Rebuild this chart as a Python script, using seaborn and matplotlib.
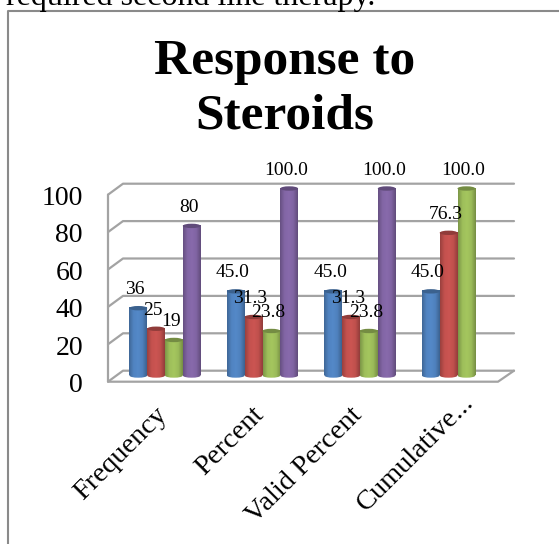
import numpy as np
import pandas as pd
import seaborn as sns
import matplotlib.pyplot as plt
from matplotlib.colors import LinearSegmentedColormap, to_rgb
from matplotlib.patches import Ellipse
from matplotlib.transforms import ScaledTranslation

# Chart data
categories = ["Frequency", "Percent", "Valid Percent", "Cumulative..."]
series_names = ["Series 1", "Series 2", "Series 3", "Series 4"]
series_1 = [36, 45.0, 45.0, 45.0]
series_2 = [25, 31.3, 31.3, 76.3]
series_3 = [19, 23.8, 23.8, 100.0]
series_4 = [80, 100.0, 100.0, np.nan]
y_ticks = [0, 20, 40, 60, 80, 100]
colors = ["#4F81BD", "#C0504D", "#9BBB59", "#8064A2"]

W, H = 559, 544
PX_PER_UNIT = 1.87
Y0_PX = 375.5
GROUP_PX = 97.5
GROUP0_PX = 165
FONT = "Liberation Serif"
GREY = "#a3a3a3"

df = pd.DataFrame({"category": categories, series_names[0]: series_1, series_names[1]: series_2,
                   series_names[2]: series_3, series_names[3]: series_4})
df = df.melt(id_vars="category", var_name="series", value_name="value")

sns.set_theme(style="white")
plt.rcParams["font.family"] = [FONT, "DejaVu Serif"]
fig = plt.figure(figsize=(W / 100, H / 100), dpi=100)

# Background layer in pixel coordinates: outer frame and the fake 3D walls
bg = fig.add_axes([0, 0, 1, 1], zorder=0)
bg.set_xlim(0, W)
bg.set_ylim(H, 0)
bg.axis("off")
bg.plot([8, 8, W], [H, 10.5, 10.5], color="#8a8a8a", lw=1.5)
bg.text(6, 4.5, "required second line therapy.", fontsize=23, color="black", va="baseline", ha="left")

for v in y_ticks:
    y = 370.7 - PX_PER_UNIT * v
    bg.plot([108, 123, 514], [y + 11, y, y], color=GREY, lw=1.6)
bg.plot([108, 108, 498, 514], [370.7 - PX_PER_UNIT * 100 + 11, 381.7, 381.7, 370.7], color=GREY, lw=1.6)

ax = fig.add_axes([108 / W, 1 - 381.7 / H, (514 - 108) / W, (381.7 - 183.5) / H], zorder=1)
ax.patch.set_alpha(0)
sns.barplot(data=df, x="category", y="value", hue="series", palette=colors, width=0.73, gap=0,
            saturation=1, legend=False, errorbar=None, ax=ax)

xlim = ((108 - GROUP0_PX) / GROUP_PX, (514 - GROUP0_PX) / GROUP_PX)
ylim = ((Y0_PX - 381.7) / PX_PER_UNIT, (Y0_PX - 183.5) / PX_PER_UNIT)

# Turn the flat bars into cylinders with a horizontal shading
ry = 2.2 / PX_PER_UNIT
bars = [p for p in ax.patches if np.isfinite(p.get_height()) and p.get_height() > 0]
bars.sort(key=lambda p: p.get_x())
for p in bars:
    x0, w, h = p.get_x(), p.get_width(), p.get_height()
    base = np.array(to_rgb(p.get_facecolor()))
    cmap = LinearSegmentedColormap.from_list("c", [base * 0.8, base * 1.02, np.minimum(base * 1.06, 1),
                                                   base * 1.0, base * 0.76])
    grad = np.linspace(0, 1, 64).reshape(1, -1)
    p.set_visible(False)
    bottom = Ellipse((x0 + w / 2, 0), w, 2 * ry, transform=ax.transData, fc="none", ec="none")
    ax.add_patch(bottom)
    im = ax.imshow(grad, extent=(x0, x0 + w, -ry, ry), aspect="auto", cmap=cmap, zorder=3, clip_on=True)
    im.set_clip_path(bottom)
    ax.imshow(grad, extent=(x0, x0 + w, 0, h), aspect="auto", cmap=cmap, zorder=3)
    ax.add_patch(Ellipse((x0 + w / 2, h), w, 2 * ry, fc=base * 0.75, ec="none", zorder=4))
    cat = int(round(x0 + w / 2))
    label = f"{h:.0f}" if cat == 0 else f"{h:.1f}"
    ax.annotate(label, (x0 + w / 2, h), xytext=(-3 * 0.72, 18.5 * 0.72), textcoords="offset points",
                ha="center", va="center", fontsize=14, color="black", zorder=6)

ax.set_xlim(xlim)
ax.set_ylim(ylim)
ax.set_xlabel("")
ax.set_ylabel("")
sns.despine(ax=ax, left=True, bottom=True)
ax.grid(False)
ax.set_yticks(y_ticks)
ax.tick_params(axis="both", length=0, colors="black")
ax.tick_params(axis="y", labelsize=20, pad=18)
ax.set_xticks(range(len(categories)))
ax.set_xticklabels(categories, rotation=45, ha="right", rotation_mode="anchor", fontsize=20.5)
ax.tick_params(axis="x", pad=15)
for lab in ax.get_yticklabels():
    lab.set_transform(lab.get_transform() + ScaledTranslation(0, -7 / 100, fig.dpi_scale_trans))
for i, lab in enumerate(ax.get_xticklabels()):
    dx, dy = (-11, 0) if i < 3 else (4, 13)
    lab.set_transform(lab.get_transform() + ScaledTranslation(dx / 100, dy / 100, fig.dpi_scale_trans))

fig.suptitle("Response to\nSteroids", x=285 / W, y=1 - 39 / H, va="top", ha="center",
             fontsize=37, fontweight="bold", linespacing=1.25, color="black")

fig.savefig("out.png", dpi=100)
